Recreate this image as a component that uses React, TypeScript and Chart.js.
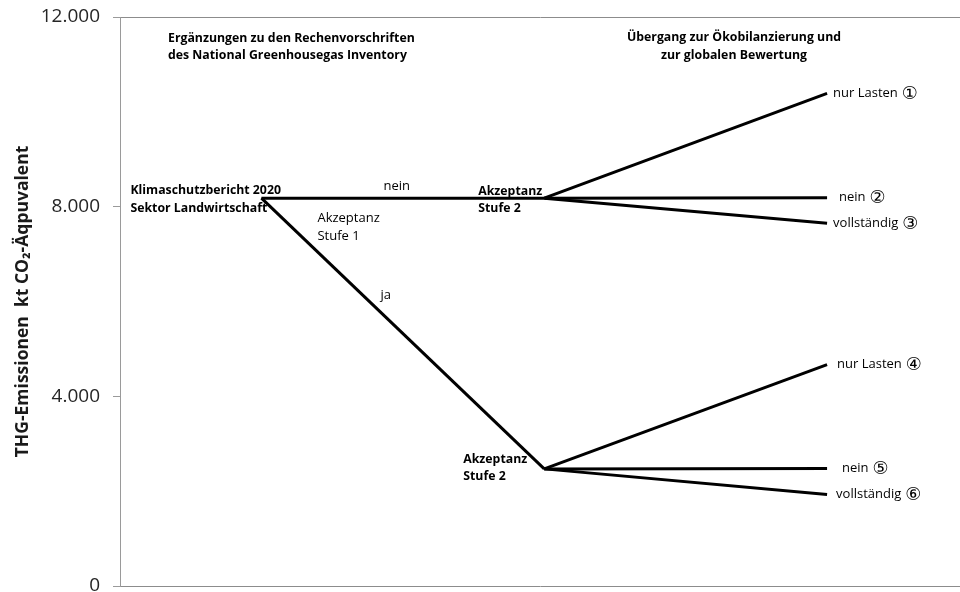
import React, { useEffect, useRef } from "react";
import { Chart, registerables } from "chart.js";

Chart.register(...registerables);

// ---- data ----
const stageX = [1, 2, 3]; // start, Akzeptanz Stufe 2, endpoints
const startValue = 8180; // Klimaschutzbericht 2020
const stage2Values = [8180, 2470]; // after "nein" / after "ja"
const endValuesUpper = [10390, 8190, 7650];
const endValuesLower = [4670, 2480, 1930];
const yTicks = [0, 4000, 8000, 12000];

const headerLeft = ["Ergänzungen zu den Rechenvorschriften", "des National Greenhousegas Inventory"];
const headerRight = ["Übergang zur Ökobilanzierung und", "zur globalen Bewertung"];
const startLabel = ["Klimaschutzbericht 2020", "Sektor Landwirtschaft"];
const branchLabels = ["nein", "ja"];
const stage1Label = ["Akzeptanz", "Stufe 1"];
const stage2Label = ["Akzeptanz", "Stufe 2"];
const endLabelsUpper = ["nur Lasten", "nein", "vollständig"];
const endNumbersUpper = ["①", "②", "③"];
const endLabelsLower = ["nur Lasten", "nein", "vollständig"];
const endNumbersLower = ["④", "⑤", "⑥"];
const yTitle = "THG-Emissionen  kt CO₂-Äqpuvalent";

const FONT = "'Open Sans', 'DejaVu Sans', sans-serif";

function seg(x0: number, y0: number, x1: number, y1: number) {
  return {
    data: [
      { x: x0, y: y0 },
      { x: x1, y: y1 },
    ],
    borderColor: "#000",
    borderWidth: 3,
    pointRadius: 0,
    showLine: true,
    fill: false,
  };
}

const labelPlugin = {
  id: "treeLabels",
  afterDatasetsDraw(chart: any) {
    const { ctx, chartArea, scales } = chart;
    const xs = scales.x;
    const ys = scales.y;
    const px = (v: number) => xs.getPixelForValue(v);
    const py = (v: number) => ys.getPixelForValue(v);
    ctx.save();
    ctx.fillStyle = "#000";
    ctx.textBaseline = "middle";
    const lines = (arr: string[], x: number, y: number, dy: number, align: CanvasTextAlign, font: string) => {
      ctx.font = font;
      ctx.textAlign = align;
      arr.forEach((t, i) => ctx.fillText(t, x, y + i * dy));
    };
    const bold = `bold 12.3px ${FONT}`;
    const norm = `13px ${FONT}`;
    const circ = `18px 'DejaVu Sans', sans-serif`;
    // headers
    lines(headerLeft, chartArea.left + 48, 38, 17, "left", bold);
    lines(headerRight, chartArea.left + 614, 37, 18, "center", bold);
    const xs0 = px(stageX[0]);
    const ys0 = py(startValue);
    lines(startLabel, xs0 - 131, ys0 - 8, 18, "left", bold);
    const xs1 = px(stageX[1]);
    const yU = py(stage2Values[0]);
    const yL = py(stage2Values[1]);
    // branch labels
    lines([branchLabels[0]], (xs0 + xs1) / 2 - 6, ys0 - 12, 0, "center", norm);
    lines([branchLabels[1]], (xs0 + xs1) / 2 - 17, (ys0 + yL) / 2 - 38, 0, "center", norm);
    lines(stage1Label, xs0 + 56, ys0 + 20, 18, "left", norm);
    lines(stage2Label, xs1 - 66, yU - 7, 17, "left", bold);
    lines(stage2Label, xs1 - 81, yL - 9, 17, "left", bold);
    const xe = px(stageX[2]);
    const offU = [6, 12, 6];
    const offL = [10, 15, 9];
    const endLabel = (t: string, n: string, x: number, y: number) => {
      ctx.font = norm;
      ctx.textAlign = "left";
      ctx.fillText(t, x, y);
      const w = ctx.measureText(t).width;
      ctx.font = circ;
      ctx.fillText(n, x + w + 4, y + 1);
    };
    endLabelsUpper.forEach((t, i) => endLabel(t, endNumbersUpper[i], xe + offU[i], py(endValuesUpper[i])));
    endLabelsLower.forEach((t, i) => endLabel(t, endNumbersLower[i], xe + offL[i], py(endValuesLower[i])));
    ctx.restore();
  },
};

export default function App() {
  const ref = useRef<HTMLCanvasElement>(null);
  useEffect(() => {
    document.body.style.margin = "0";
    const datasets: any[] = [
      seg(stageX[0], startValue, stageX[1], stage2Values[0]),
      seg(stageX[0], startValue, stageX[1], stage2Values[1]),
      ...endValuesUpper.map((v) => seg(stageX[1], stage2Values[0], stageX[2], v)),
      ...endValuesLower.map((v) => seg(stageX[1], stage2Values[1], stageX[2], v)),
    ];
    const chart = new Chart(ref.current!, {
      type: "scatter",
      data: { datasets },
      plugins: [labelPlugin],
      options: {
        animation: false,
        responsive: false,
        maintainAspectRatio: false,
        layout: { padding: { top: 17, right: 0, bottom: 6, left: 0 } },
        plugins: { legend: { display: false }, tooltip: { enabled: false } },
        scales: {
          x: {
            type: "linear",
            display: false,
            min: 0.5,
            max: 3.47,
          },
          y: {
            min: 0,
            max: 12000,
            afterBuildTicks: (scale: any) => {
              scale.ticks = yTicks.map((v) => ({ value: v }));
            },
            afterFit: (scale: any) => {
              scale.width = 120;
              scale.paddingTop = 0;
              scale.paddingBottom = 0;
            },
            border: { display: true, color: "#9a9a9a", width: 1 },
            grid: {
              drawOnChartArea: true,
              color: (c: any) => (c.tick && (c.tick.value === 0 || c.tick.value === 12000) ? "#8c8c8c" : "rgba(0,0,0,0)"),
              tickColor: "#9a9a9a",
              tickLength: 7,
              lineWidth: 1,
            },
            ticks: {
              padding: 13,
              color: "#262626",
              font: { family: FONT, size: 19 },
              callback: (v: any) => (Number(v) === 0 ? "0" : Number(v).toLocaleString("de-DE")),
            },
            title: {
              display: true,
              text: yTitle,
              color: "#1a1a1a",
              font: { family: FONT, size: 17.5, weight: "bold" },
              padding: { top: 13, bottom: 0 },
            },
          },
        },
      },
    });
    return () => chart.destroy();
  }, []);
  return (
    <div style={{ width: 960, height: 592 }}>
      <canvas ref={ref} width={960} height={592} style={{ display: "block" }} />
    </div>
  );
}
